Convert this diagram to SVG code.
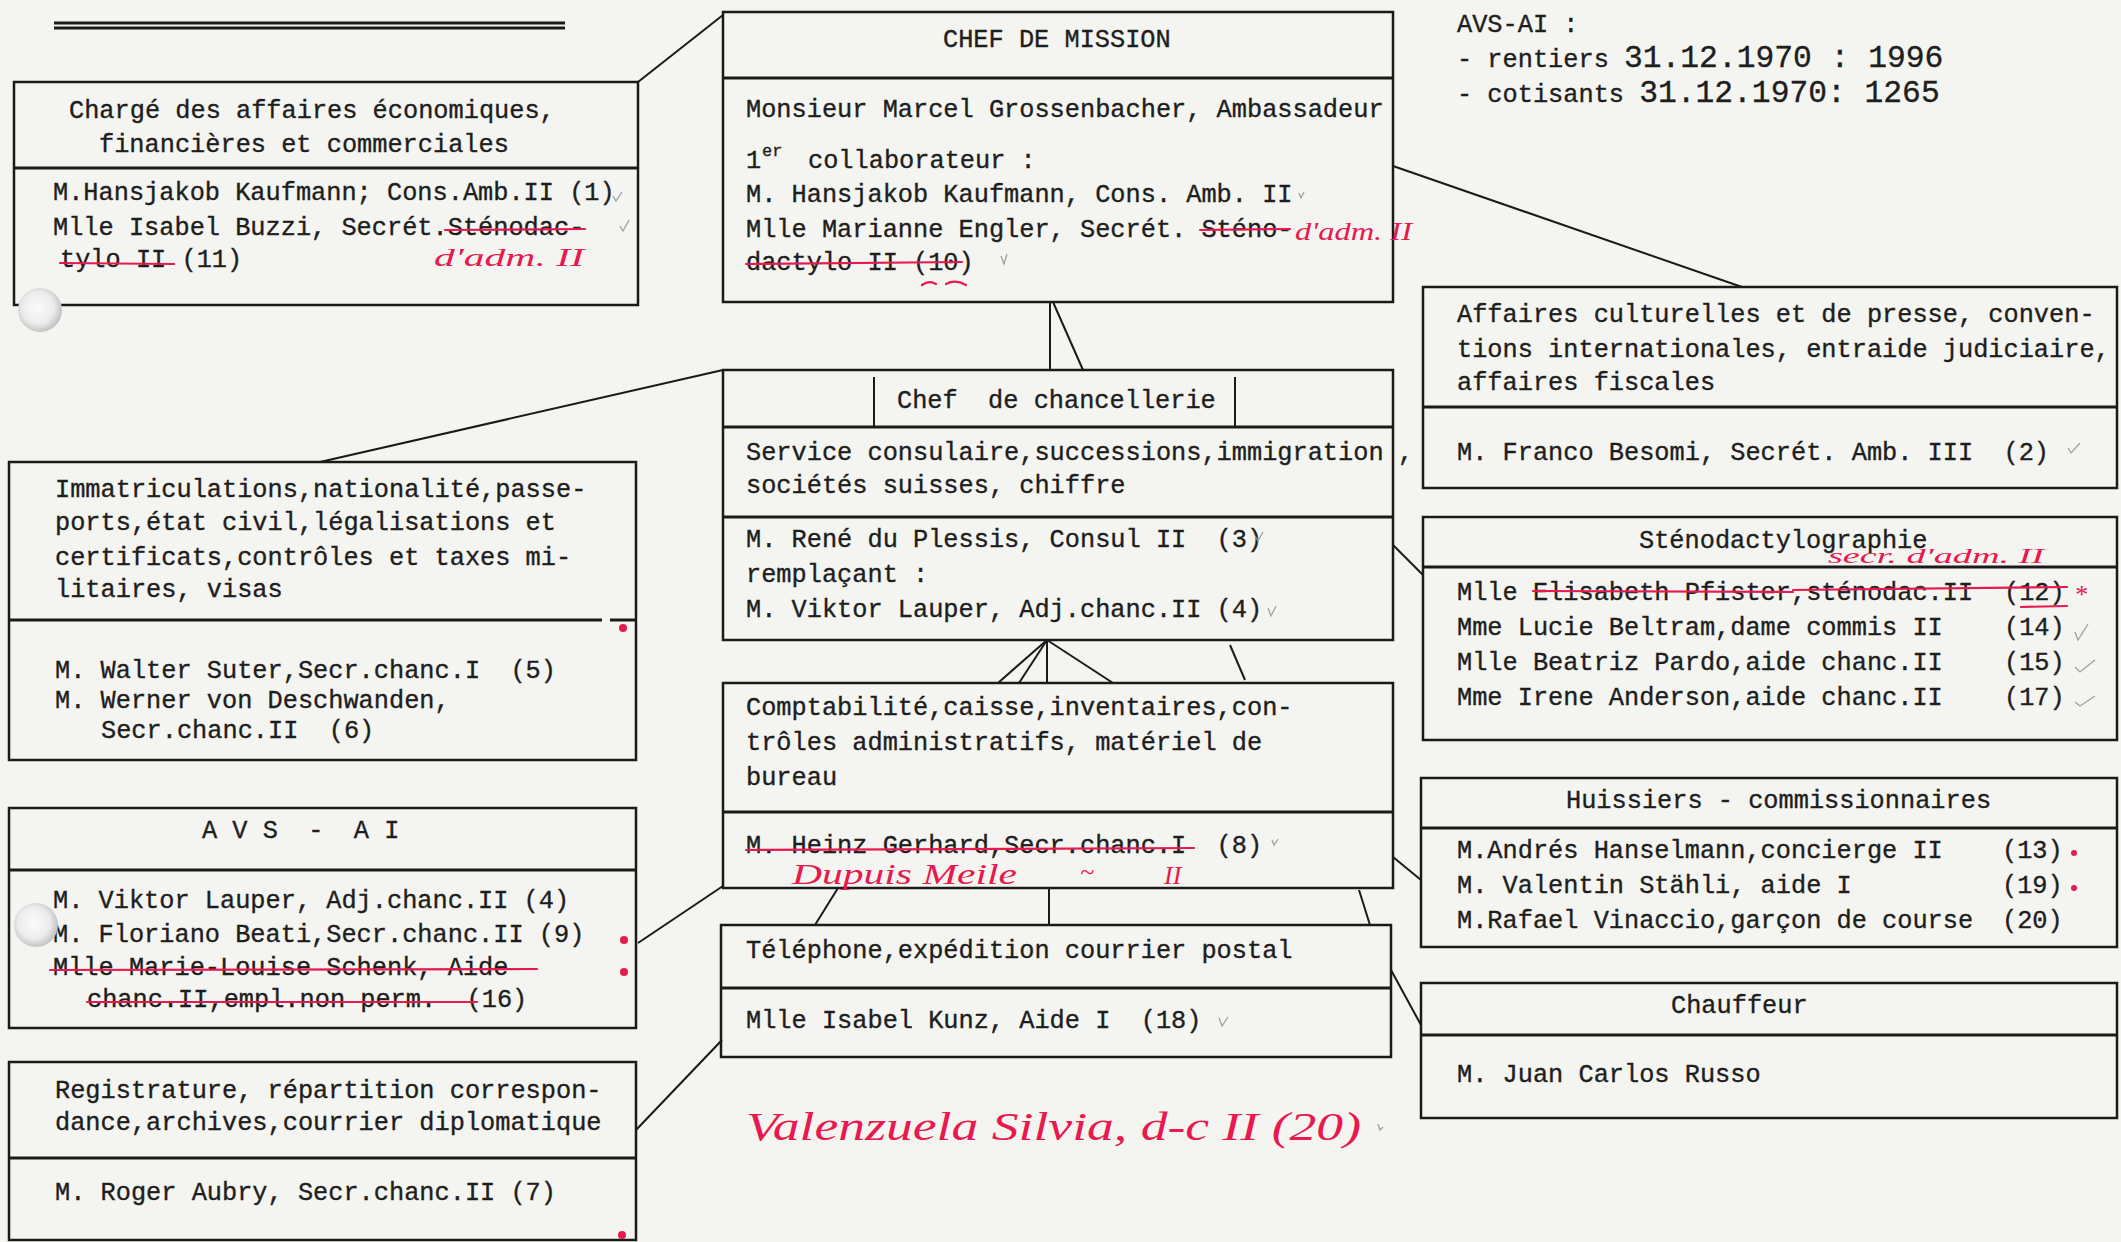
<svg xmlns="http://www.w3.org/2000/svg" width="2121" height="1242" viewBox="0 0 2121 1242">
<style>
.t{font-family:"Liberation Mono","Courier New",monospace;font-size:25.3px;fill:#1e1e1e;stroke:#1e1e1e;stroke-width:0.35;white-space:pre;}
.big{font-size:31.3px;}
.sup{font-size:17px;}
.box{fill:none;stroke:#1a1a1a;stroke-width:2.5;}
.dv{stroke:#1a1a1a;stroke-width:3;}
.con{stroke:#1a1a1a;stroke-width:2;fill:none;}
.red{stroke:#e8194f;stroke-width:2.2;fill:none;stroke-linecap:round;}
.hw{font-family:"Liberation Serif",serif;font-style:italic;fill:#e8194f;white-space:pre;}
.chk{stroke:#a0a0a0;stroke-width:1.3;fill:none;}
.rd{fill:#e8194f;}
</style>
<defs>
<radialGradient id="hole" cx="0.45" cy="0.45" r="0.6">
<stop offset="0" stop-color="#fbfbfb"/>
<stop offset="0.6" stop-color="#ececec"/>
<stop offset="1" stop-color="#b9b9b9"/>
</radialGradient>
</defs>
<rect width="2121" height="1242" fill="#f4f4f0"/>

<!-- header double line -->
<g id="header">
<line x1="54" y1="23" x2="565" y2="23" class="dv"/>
<line x1="54" y1="28" x2="565" y2="28" class="dv"/>
</g>

<!-- top-right statistics -->
<g id="stats">
<text class="t" x="1457" y="32">AVS-AI :</text>
<text class="t" x="1457" y="67">- rentiers <tspan class="big">31.12.1970 : 1996</tspan></text>
<text class="t" x="1457" y="102">- cotisants <tspan class="big">31.12.1970: 1265</tspan></text>
</g>

<!-- connectors -->
<g id="connectors">
<line class="con" x1="638" y1="82" x2="723" y2="15"/>
<line class="con" x1="1393" y1="166" x2="1742" y2="287"/>
<line class="con" x1="1050" y1="302" x2="1050" y2="370"/>
<line class="con" x1="1053" y1="302" x2="1083" y2="370"/>
<line class="con" x1="320" y1="462" x2="723" y2="370"/>
<line class="con" x1="1393" y1="545" x2="1423" y2="575"/>
<line class="con" x1="1047" y1="640" x2="998" y2="683"/>
<line class="con" x1="1047" y1="640" x2="1019" y2="683"/>
<line class="con" x1="1047" y1="640" x2="1047" y2="683"/>
<line class="con" x1="1047" y1="640" x2="1113" y2="683"/>
<line class="con" x1="1230" y1="645" x2="1245" y2="680"/>
<line class="con" x1="838" y1="888" x2="815" y2="925"/>
<line class="con" x1="1049" y1="888" x2="1049" y2="925"/>
<line class="con" x1="1359" y1="890" x2="1370" y2="925"/>
<line class="con" x1="638" y1="943" x2="723" y2="886"/>
<line class="con" x1="636" y1="1130" x2="722" y2="1040"/>
<line class="con" x1="1393" y1="857" x2="1421" y2="880"/>
<line class="con" x1="1391" y1="970" x2="1421" y2="1025"/>
</g>

<!-- Chargé des affaires économiques -->
<g id="economie">
<rect class="box" x="14" y="82" width="624" height="223"/>
<line class="dv" x1="14" y1="168" x2="638" y2="168"/>
<text class="t" x="69" y="118">Chargé des affaires économiques,</text>
<text class="t" x="99" y="152">financières et commerciales</text>
<text class="t" x="53" y="200">M.Hansjakob Kaufmann; Cons.Amb.II (1)</text>
<text class="t" x="53" y="235">Mlle Isabel Buzzi, Secrét.Sténodac-</text>
<text class="t" x="60" y="267">tylo II (11)</text>
<line class="red" x1="445" y1="230" x2="585" y2="229"/>
<line class="red" x1="60" y1="263" x2="174" y2="264"/>
<text class="hw" x="434" y="266" font-size="26" textLength="150" lengthAdjust="spacingAndGlyphs">d'adm. II</text>
<path class="chk" d="M613 196 L616 201 L622 192"/>
<path class="chk" d="M620 226 L623 231 L629 220"/>
</g>

<!-- Chef de mission -->
<g id="chef-mission">
<rect class="box" x="723" y="12" width="670" height="290"/>
<line class="dv" x1="723" y1="78" x2="1393" y2="78"/>
<text class="t" x="943" y="47">CHEF DE MISSION</text>
<text class="t" x="746" y="117">Monsieur Marcel Grossenbacher, Ambassadeur</text>
<text class="t" x="746" y="168">1</text>
<text class="t sup" x="762" y="156">er</text>
<text class="t" x="808" y="168">collaborateur :</text>
<text class="t" x="746" y="202">M. Hansjakob Kaufmann, Cons. Amb. II</text>
<text class="t" x="746" y="237">Mlle Marianne Engler, Secrét. Sténo-</text>
<text class="t" x="746" y="270">dactylo II (10)</text>
<line class="red" x1="1200" y1="230" x2="1290" y2="229"/>
<line class="red" x1="746" y1="264" x2="962" y2="262"/>
<path class="red" d="M922 285 Q929 280 936 284 M946 284 Q955 279 966 285"/>
<text class="hw" x="1295" y="240" font-size="26" textLength="117" lengthAdjust="spacingAndGlyphs">d'adm. II</text>
<path class="chk" d="M1299 193 L1301 198 L1304 192"/>
<path class="chk" d="M1001 256 L1004 264 L1007 254"/>
</g>

<!-- Chef de chancellerie -->
<g id="chancellerie">
<rect class="box" x="723" y="370" width="670" height="270"/>
<line class="dv" x1="723" y1="427" x2="1393" y2="427"/>
<line class="dv" x1="723" y1="517" x2="1393" y2="517"/>
<line class="con" x1="874" y1="377" x2="874" y2="427"/>
<line class="con" x1="1235" y1="377" x2="1235" y2="427"/>
<text class="t" x="897" y="408">Chef  de chancellerie</text>
<text class="t" x="746" y="460">Service consulaire,successions,immigration</text>
<text class="t" x="1398" y="460">,</text>
<text class="t" x="746" y="493">sociétés suisses, chiffre</text>
<text class="t" x="746" y="547">M. René du Plessis, Consul II  (3)</text>
<text class="t" x="746" y="582">remplaçant :</text>
<text class="t" x="746" y="617">M. Viktor Lauper, Adj.chanc.II (4)</text>
<path class="chk" d="M1255 536 L1258 541 L1263 532"/>
<path class="chk" d="M1268 608 L1271 616 L1276 606"/>
</g>

<!-- Comptabilité -->
<g id="comptabilite">
<rect class="box" x="723" y="683" width="670" height="205"/>
<line class="dv" x1="723" y1="812" x2="1393" y2="812"/>
<text class="t" x="746" y="715">Comptabilité,caisse,inventaires,con-</text>
<text class="t" x="746" y="750">trôles administratifs, matériel de</text>
<text class="t" x="746" y="785">bureau</text>
<text class="t" x="746" y="853">M. Heinz Gerhard,Secr.chanc.I  (8)</text>
<line class="red" x1="746" y1="850" x2="1194" y2="848"/>
<text class="hw" x="792" y="884" font-size="30" textLength="225" lengthAdjust="spacingAndGlyphs">Dupuis Meile</text>
<text class="hw" x="1080" y="880" font-size="26">~</text>
<text class="hw" x="1164" y="884" font-size="26">II</text>
<path class="chk" d="M1272 840 L1274 845 L1278 839"/>
</g>

<!-- Téléphone -->
<g id="telephone">
<rect class="box" x="721" y="925" width="670" height="132"/>
<line class="dv" x1="721" y1="988" x2="1391" y2="988"/>
<text class="t" x="746" y="958">Téléphone,expédition courrier postal</text>
<text class="t" x="746" y="1028">Mlle Isabel Kunz, Aide I  (18)</text>
<path class="chk" d="M1219 1018 L1222 1026 L1228 1017"/>
</g>

<!-- handwritten addition -->
<g id="valenzuela">
<text class="hw" x="746" y="1140" font-size="40" textLength="615" lengthAdjust="spacingAndGlyphs">Valenzuela Silvia, d-c II (20)</text>
<path class="chk" d="M1378 1124 L1380 1130 L1383 1127"/>
</g>

<!-- Immatriculations -->
<g id="immatriculations">
<rect class="box" x="9" y="462" width="627" height="298"/>
<line class="dv" x1="9" y1="620" x2="602" y2="620"/>
<line class="dv" x1="610" y1="620" x2="636" y2="620"/>
<text class="t" x="55" y="497">Immatriculations,nationalité,passe-</text>
<text class="t" x="55" y="530">ports,état civil,légalisations et</text>
<text class="t" x="55" y="565">certificats,contrôles et taxes mi-</text>
<text class="t" x="55" y="597">litaires, visas</text>
<text class="t" x="55" y="678">M. Walter Suter,Secr.chanc.I  (5)</text>
<text class="t" x="55" y="708">M. Werner von Deschwanden,</text>
<text class="t" x="101" y="738">Secr.chanc.II  (6)</text>
<circle class="rd" cx="623" cy="628" r="4"/>
</g>

<!-- AVS - AI -->
<g id="avs-ai">
<rect class="box" x="9" y="808" width="627" height="220"/>
<line class="dv" x1="9" y1="870" x2="636" y2="870"/>
<text class="t" x="202" y="838">A V S  -  A I</text>
<text class="t" x="53" y="908">M. Viktor Lauper, Adj.chanc.II (4)</text>
<text class="t" x="53" y="942">M. Floriano Beati,Secr.chanc.II (9)</text>
<text class="t" x="53" y="975">Mlle Marie-Louise Schenk, Aide</text>
<text class="t" x="87" y="1007">chanc.II,empl.non perm.  (16)</text>
<line class="red" x1="50" y1="970" x2="537" y2="969"/>
<line class="red" x1="87" y1="1002" x2="477" y2="1002"/>
<circle class="rd" cx="624" cy="940" r="4"/>
<circle class="rd" cx="624" cy="972" r="4"/>
</g>

<!-- Registrature -->
<g id="registrature">
<rect class="box" x="9" y="1062" width="627" height="178"/>
<line class="dv" x1="9" y1="1158" x2="636" y2="1158"/>
<text class="t" x="55" y="1098">Registrature, répartition correspon-</text>
<text class="t" x="55" y="1130">dance,archives,courrier diplomatique</text>
<text class="t" x="55" y="1200">M. Roger Aubry, Secr.chanc.II (7)</text>
<circle class="rd" cx="622" cy="1235" r="4"/>
</g>

<!-- Affaires culturelles -->
<g id="affaires-culturelles">
<rect class="box" x="1423" y="287" width="694" height="201"/>
<line class="dv" x1="1423" y1="407" x2="2117" y2="407"/>
<text class="t" x="1457" y="322">Affaires culturelles et de presse, conven-</text>
<text class="t" x="1457" y="357">tions internationales, entraide judiciaire,</text>
<text class="t" x="1457" y="390">affaires fiscales</text>
<text class="t" x="1457" y="460">M. Franco Besomi, Secrét. Amb. III  (2)</text>
<path class="chk" d="M2068 448 L2071 453 L2080 443"/>
</g>

<!-- Sténodactylographie -->
<g id="stenodactylographie">
<rect class="box" x="1423" y="517" width="694" height="223"/>
<line class="dv" x1="1423" y1="567" x2="2117" y2="567"/>
<text class="t" x="1639" y="548">Sténodactylographie</text>
<text class="hw" x="1828" y="563" font-size="22" textLength="216" lengthAdjust="spacingAndGlyphs">secr. d'adm. II</text>
<text class="t" x="1457" y="600">Mlle Elisabeth Pfister,sténodac.II</text>
<text class="t" x="2004" y="600">(12)</text>
<text class="t" x="1457" y="635">Mme Lucie Beltram,dame commis II</text>
<text class="t" x="2004" y="635">(14)</text>
<text class="t" x="1457" y="670">Mlle Beatriz Pardo,aide chanc.II</text>
<text class="t" x="2004" y="670">(15)</text>
<text class="t" x="1457" y="705">Mme Irene Anderson,aide chanc.II</text>
<text class="t" x="2004" y="705">(17)</text>
<line class="red" x1="1533" y1="591" x2="1793" y2="592"/>
<line class="red" x1="1793" y1="590" x2="2067" y2="587"/>
<line class="red" x1="2021" y1="607" x2="2067" y2="606"/>
<text class="hw" x="2074" y="603" font-size="26">*</text>
<path class="chk" d="M2075 632 L2078 640 L2088 624"/>
<path class="chk" d="M2075 667 L2080 672 L2095 660"/>
<path class="chk" d="M2075 702 L2080 706 L2095 696"/>
</g>

<!-- Huissiers -->
<g id="huissiers">
<rect class="box" x="1421" y="778" width="696" height="169"/>
<line class="dv" x1="1421" y1="828" x2="2117" y2="828"/>
<text class="t" x="1566" y="808">Huissiers - commissionnaires</text>
<text class="t" x="1457" y="858">M.Andrés Hanselmann,concierge II</text>
<text class="t" x="2002" y="858">(13)</text>
<text class="t" x="1457" y="893">M. Valentin Stähli, aide I</text>
<text class="t" x="2002" y="893">(19)</text>
<text class="t" x="1457" y="928">M.Rafael Vinaccio,garçon de course</text>
<text class="t" x="2002" y="928">(20)</text>
<circle class="rd" cx="2074" cy="853" r="3"/>
<circle class="rd" cx="2074" cy="888" r="3"/>
</g>

<!-- Chauffeur -->
<g id="chauffeur">
<rect class="box" x="1421" y="983" width="696" height="135"/>
<line class="dv" x1="1421" y1="1035" x2="2117" y2="1035"/>
<text class="t" x="1671" y="1013">Chauffeur</text>
<text class="t" x="1457" y="1082">M. Juan Carlos Russo</text>
</g>

<!-- punch holes -->
<g id="punch-holes">
<circle cx="40" cy="310" r="22" fill="url(#hole)"/>
<circle cx="36" cy="925" r="22" fill="url(#hole)"/>
</g>
</svg>
